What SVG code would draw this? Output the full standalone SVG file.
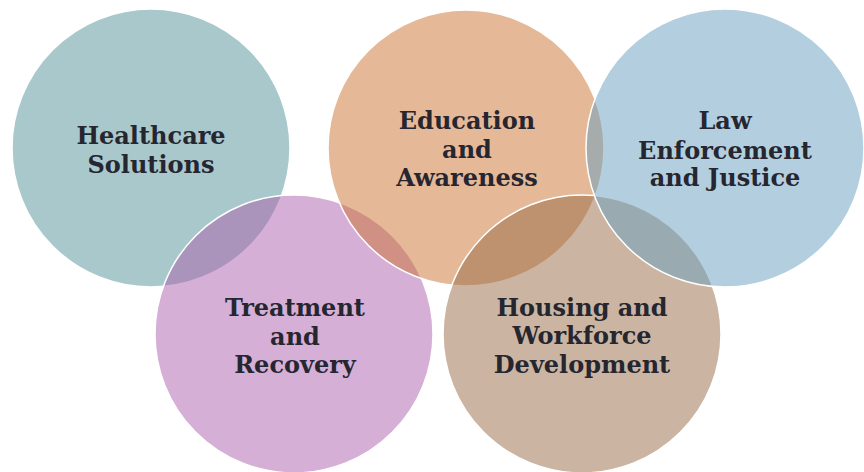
<svg xmlns="http://www.w3.org/2000/svg" width="864" height="472" viewBox="0 0 864 472">
<style>
.c{stroke:#ffffff;stroke-width:1.5;fill-opacity:0.5}
.t{font-family:"DejaVu Serif","Liberation Serif",serif;font-weight:bold;font-size:24px;fill:#262630;text-anchor:middle}
</style>
<rect width="864" height="472" fill="#ffffff"/>
<g id="healthcare">
<circle class="c" cx="151" cy="148" r="139" fill="#519197"/>
<text class="t" x="151" y="144">Healthcare</text>
<text class="t" x="151" y="173">Solutions</text>
</g>
<g id="treatment">
<circle class="c" cx="294" cy="334" r="139" fill="#ab5fad"/>
<text class="t" x="295" y="316">Treatment</text>
<text class="t" x="295" y="345">and</text>
<text class="t" x="295" y="373">Recovery</text>
</g>
<g id="education">
<circle class="c" cx="466" cy="148" r="138" fill="#cb7331"/>
<text class="t" x="467" y="129">Education</text>
<text class="t" x="467" y="158">and</text>
<text class="t" x="467" y="186">Awareness</text>
</g>
<g id="housing">
<circle class="c" cx="582" cy="334" r="139" fill="#976b45"/>
<text class="t" x="582" y="316">Housing and</text>
<text class="t" x="582" y="344">Workforce</text>
<text class="t" x="582" y="373">Development</text>
</g>
<g id="law">
<circle class="c" cx="725" cy="148" r="139" fill="#679fbf"/>
<text class="t" x="725" y="129">Law</text>
<text class="t" x="725" y="159">Enforcement</text>
<text class="t" x="725" y="186">and Justice</text>
</g>
<g id="connectors"></g>
</svg>
